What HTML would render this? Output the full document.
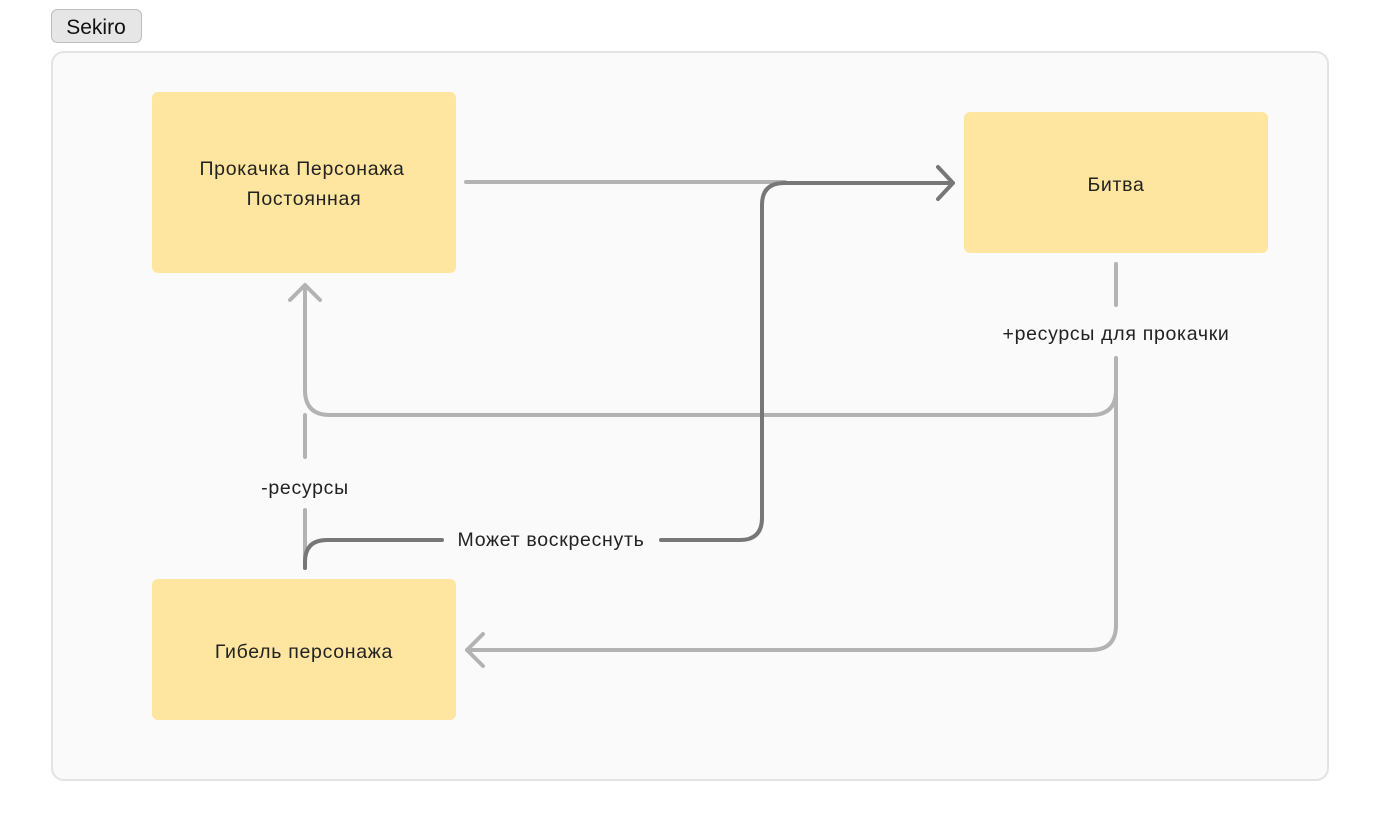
<!DOCTYPE html>
<html><head><meta charset="utf-8"><style>
html,body{margin:0;padding:0;background:#fff;width:1380px;height:833px;overflow:hidden;font-family:"Liberation Sans",sans-serif;}
</style></head><body>
<svg width="1380" height="833" xmlns="http://www.w3.org/2000/svg" font-family="Liberation Sans, sans-serif">
<rect x="51.5" y="9.5" width="90" height="33" rx="6" fill="#e6e6e6" stroke="#bdbdbd"/>
<text x="96" y="34" font-size="21" text-anchor="middle" fill="#111">Sekiro</text>
<rect x="52" y="52" width="1276" height="728" rx="12" fill="#fafafa" stroke="#e3e3e3" stroke-width="2"/>
<rect x="152" y="92" width="304" height="181" rx="6" fill="#fee6a1"/>
<rect x="964" y="112" width="304" height="141" rx="6" fill="#fee6a1"/>
<rect x="152" y="579" width="304" height="141" rx="6" fill="#fee6a1"/>
<g font-size="19.5" fill="#222" text-anchor="middle" letter-spacing="0.7">
<text x="302" y="175">Прокачка Персонажа</text>
<text x="304" y="205">Постоянная</text>
<text x="1116" y="191">Битва</text>
<text x="304" y="658">Гибель персонажа</text>
<text x="1116" y="340">+ресурсы для прокачки</text>
<text x="305" y="494">-ресурсы</text>
<text x="551" y="546">Может воскреснуть</text>
</g>
<g fill="none" stroke="#b3b3b3" stroke-width="4" stroke-linecap="round" stroke-linejoin="round">
<path d="M466,182 H785"/>
<path d="M1116,264 V305"/>
<path d="M1116,358 V390 Q1116,415 1091,415 H330 Q305,415 305,390 V286"/>
<path d="M290,300 L305,285 L320,300"/>
<path d="M305,415 V457"/>
<path d="M305,510 V568"/>
<path d="M1116,390 V625 Q1116,650 1091,650 H467"/>
<path d="M483,634 L467,650 L483,666"/>
</g>
<g fill="none" stroke="#777" stroke-width="4" stroke-linecap="round" stroke-linejoin="round">
<path d="M305,568 V562 Q305,540 327,540 H442"/>
<path d="M661,540 H740 Q762,540 762,518 V205 Q762,183 784,183 H952"/>
<path d="M938,167 L953,183 L938,199"/>
</g>
</svg>
</body></html>
